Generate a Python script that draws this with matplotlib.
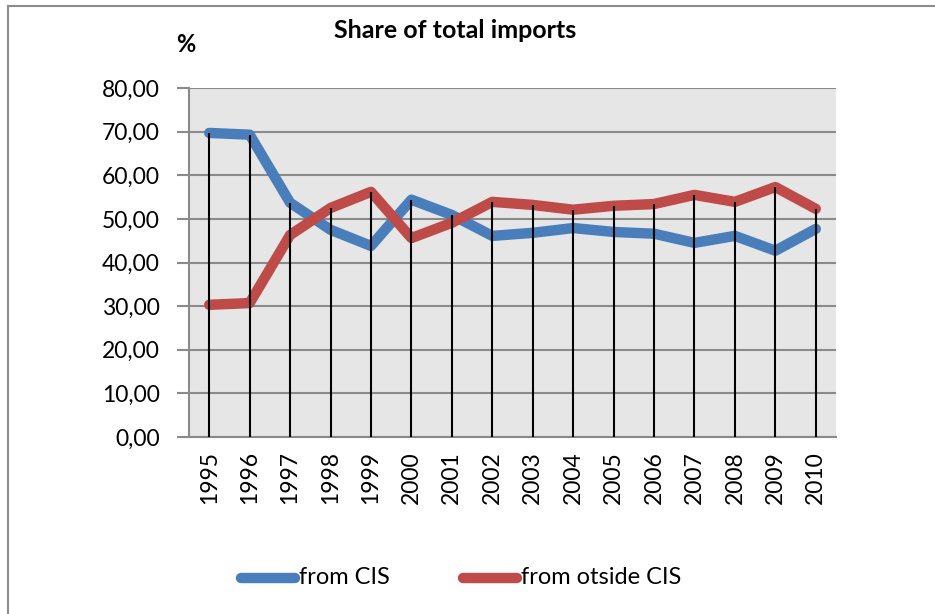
import matplotlib
matplotlib.use("Agg")
import matplotlib.pyplot as plt
from matplotlib.lines import Line2D

years = ["1995", "1996", "1997", "1998", "1999", "2000", "2001", "2002",
         "2003", "2004", "2005", "2006", "2007", "2008", "2009", "2010"]
from_cis = [69.7, 69.3, 53.7, 47.5, 43.8, 54.4, 50.9, 46.1,
            46.8, 47.9, 47.0, 46.6, 44.5, 46.1, 42.7, 47.7]
from_outside = [30.3, 30.7, 46.3, 52.5, 56.2, 45.6, 49.1, 53.9,
                53.2, 52.1, 53.0, 53.4, 55.5, 53.9, 57.3, 52.3]
yticks = [0, 10, 20, 30, 40, 50, 60, 70, 80]

plt.rcParams['font.family'] = ['Lato', 'DejaVu Sans']

W, H = 935, 614
fig = plt.figure(figsize=(W / 100, H / 100), dpi=100)

# outer chart border (left and top visible)
fig.add_artist(Line2D([8 / W, 8 / W], [0, 1 - 6 / H], color='#8c8c8c', lw=1.5, transform=fig.transFigure))
fig.add_artist(Line2D([8 / W, 1], [1 - 6 / H, 1 - 6 / H], color='#8c8c8c', lw=1.5, transform=fig.transFigure))

left, right, top, bottom = 189, 836, 88, 437
ax = fig.add_axes([left / W, 1 - bottom / H, (right - left) / W, (bottom - top) / H])
ax.set_facecolor('#e6e6e6')

x = list(range(len(years)))
ax.set_xlim(-0.5, len(years) - 0.5)
ax.set_ylim(0, 80)

ax.plot(x, from_cis, color='#4a7ebb', lw=7.5, solid_capstyle='round', solid_joinstyle='round', zorder=3)
ax.plot(x, from_outside, color='#be4b48', lw=7.5, solid_capstyle='round', solid_joinstyle='round', zorder=3)

tops = [max(a, b) for a, b in zip(from_cis, from_outside)]
ax.vlines(x, 0, tops, color='black', lw=1.5, zorder=4)

ax.set_yticks(yticks)
ax.set_yticklabels([f"{v:.2f}".replace('.', ',') for v in yticks], fontsize=16.5)
ax.yaxis.grid(True, color='#8a8a8a', lw=1.5, zorder=1)
ax.set_axisbelow(True)
ax.set_xticks(x)
ax.set_xticklabels(years, rotation=90, fontsize=16.5)
ax.tick_params(axis='x', length=0, pad=10)
ax.tick_params(axis='y', length=9, width=1.5, color='#8a8a8a', pad=12)
for s in ['top', 'right']:
    ax.spines[s].set_visible(False)
for s in ['left', 'bottom']:
    ax.spines[s].set_color('#8a8a8a')
    ax.spines[s].set_linewidth(1.5)

fig.text(455 / W, 1 - 30 / H, "Share of total imports", ha='center', va='center',
         fontsize=18, fontweight='bold')
fig.text(186 / W, 1 - 45 / H, "%", ha='center', va='center', fontsize=17, fontweight='bold')

# legend
ly = 1 - 578 / H
fig.add_artist(Line2D([241 / W, 295 / W], [ly, ly], color='#4a7ebb', lw=7.5,
                      solid_capstyle='round', transform=fig.transFigure))
fig.text(299 / W, ly, "from CIS", ha='left', va='center', fontsize=17)
fig.add_artist(Line2D([463 / W, 517 / W], [ly, ly], color='#be4b48', lw=7.5,
                      solid_capstyle='round', transform=fig.transFigure))
fig.text(521 / W, ly, "from otside CIS", ha='left', va='center', fontsize=17)

fig.savefig("out.png", dpi=100)
